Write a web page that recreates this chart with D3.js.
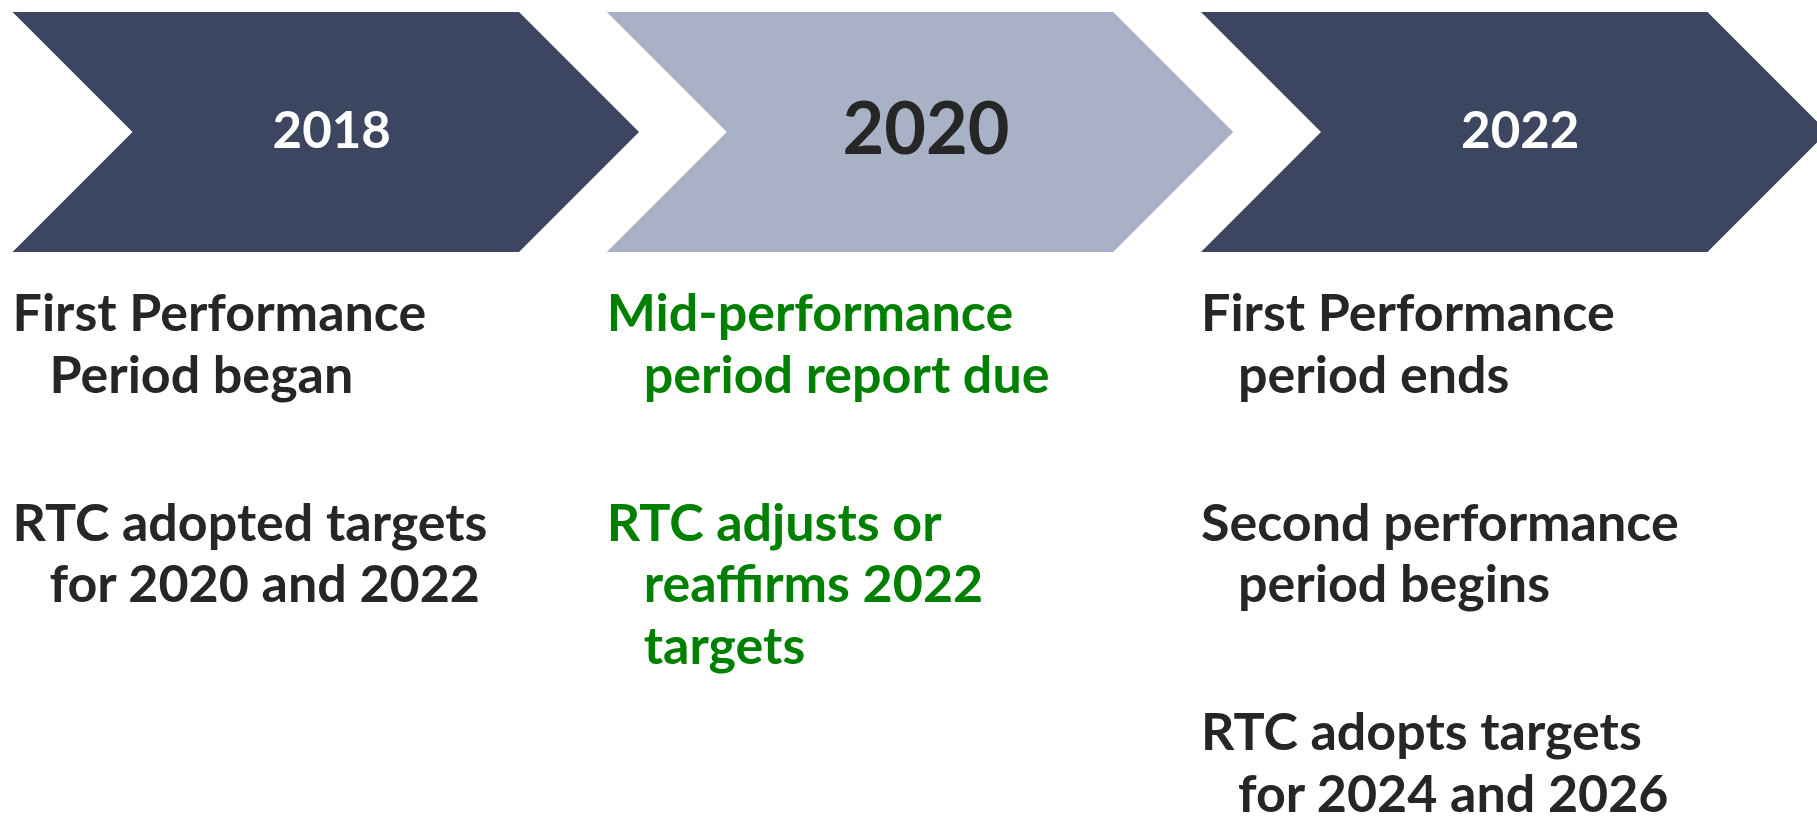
<!DOCTYPE html>
<html><head><meta charset="utf-8">
<script src="https://cdn.jsdelivr.net/npm/d3@7"></script>
<style>html,body{margin:0;padding:0;background:#fff;overflow:hidden}</style>
</head><body><svg id="c"></svg>
<script>
// ---- data ----
const years = ["2018", "2020", "2022"];
const highlighted = [false, true, false];
const notes2018 = [["First Performance", "Period began"], ["RTC adopted targets", "for 2020 and 2022"]];
const notes2020 = [["Mid-performance", "period report due"], ["RTC adjusts or", "reaffirms 2022", "targets"]];
const notes2022 = [["First Performance", "period ends"], ["Second performance", "period begins"], ["RTC adopts targets", "for 2024 and 2026"]];
const notes = [notes2018, notes2020, notes2022];

// ---- layout ----
const W = 1817, H = 817;
const svg = d3.select("#c").attr("width", W).attr("height", H);
svg.append("rect").attr("width", W).attr("height", H).attr("fill", "#fff");

const FONT = "Lato, 'Open Sans', sans-serif";
const darkFill = "#3D4660", lightFill = "#A9B1C7";
const textDark = "#262626", textGreen = "#008000";

const x = d3.scaleLinear().domain([0, years.length]).range([12.5, 12.5 + 594.25 * years.length]);
const y = d3.scaleLinear().domain([0, 1]).range([12, 252]);
const bodyW = 506.5;
const depth = (y(1) - y(0)) / 2;

const g = svg.selectAll("g.step").data(years).join("g").attr("class", "step");

g.append("path")
  .attr("d", (d, i) => {
    const l = x(i), t = y(0), b = y(1), m = y(0.5);
    return `M${l},${t}L${l + bodyW},${t}L${l + bodyW + depth},${m}L${l + bodyW},${b}L${l},${b}L${l + depth},${m}Z`;
  })
  .attr("fill", (d, i) => highlighted[i] ? lightFill : darkFill);

g.append("text")
  .attr("x", (d, i) => x(i) + (bodyW + depth) / 2 + 6)
  .attr("y", (d, i) => highlighted[i] ? y(0.5) + 22 : y(0.5) + 16)
  .attr("text-anchor", "middle")
  .attr("font-family", FONT)
  .attr("font-weight", 700)
  .attr("font-size", (d, i) => highlighted[i] ? 72 : 51)
  .attr("fill", (d, i) => highlighted[i] ? textDark : "#ffffff")
  .text(d => d);

const firstBase = 331, lineH = 61.5, paraGap = 148;
const indent = 37;
notes.forEach((paras, i) => {
  let base = firstBase;
  const col = svg.append("g");
  paras.forEach((lines, p) => {
    lines.forEach((ln, k) => {
      col.append("text")
        .attr("x", x(i) + (k === 0 ? 0 : indent))
        .attr("y", base)
        .attr("font-family", FONT)
        .attr("font-weight", 700)
        .attr("font-size", 52)
        .attr("fill", highlighted[i] ? textGreen : textDark)
        .text(ln);
      if (k < lines.length - 1) base += lineH;
    });
    base += paraGap;
  });
});
</script>
</body></html>
